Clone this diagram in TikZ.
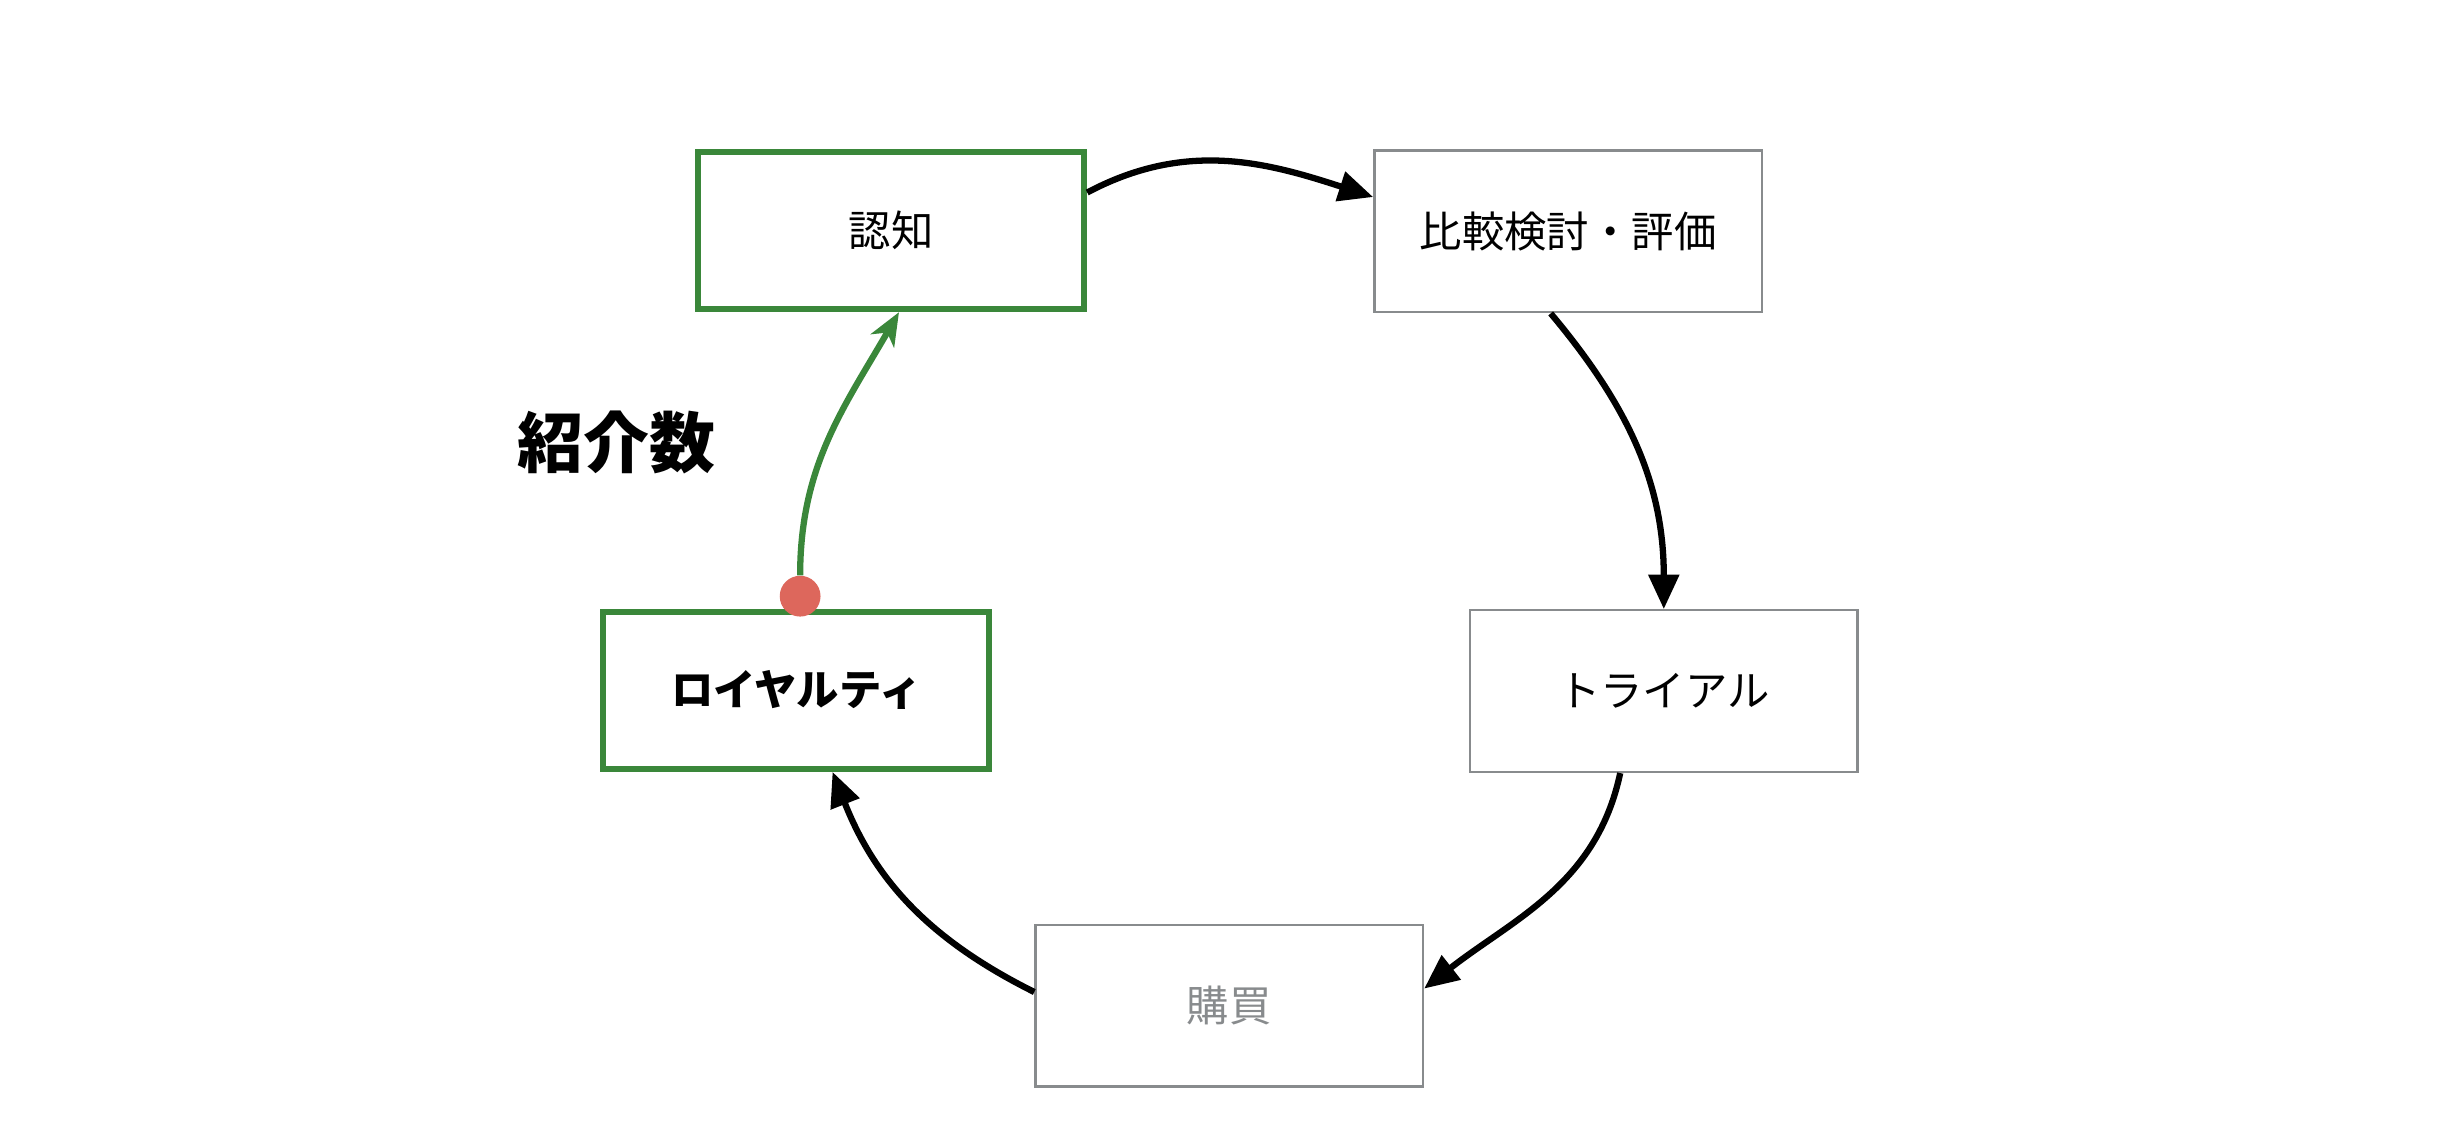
\documentclass[tikz,border=0pt]{standalone}
\usepackage{fontspec}
\usepackage{xcolor}
\usepackage{tikz}
\usetikzlibrary{arrows.meta, positioning}
\setmainfont{Noto Sans CJK JP}
\definecolor{stagegreen}{RGB}{58, 135, 58}
\definecolor{stagegray}{RGB}{136, 139, 141}
\definecolor{dotred}{RGB}{221, 103, 92}

\begin{document}
\begin{tikzpicture}[
    x=1pt, y=1pt,
    box/.style={rectangle, draw=stagegray, line width=1.5pt, fill=white, minimum width=247pt, minimum height=103pt, text centered, font=\fontsize{27pt}{32pt}\selectfont},
    keybox/.style={box, draw=stagegreen, line width=4pt, minimum width=246pt, minimum height=100pt},
    arrow/.style={-{Triangle[length=22pt,width=19pt]}, line width=4pt, black},
    greenarrow/.style={-{Stealth[length=21pt,width=17pt,inset=6pt]}, line width=4pt, stagegreen}
]
\useasboundingbox (0,0) rectangle (1568,-730.5);

\node[keybox] (ninchi) at (568,-147) {認知};
\node[box] (hikaku) at (999.5,-147.5) {比較検討・評価};
\node[box] (trial) at (1060.5,-440.5) {トライアル};
\node[box, text=stagegray] (kobai) at (783.5,-641) {購買};
\node[keybox, font=\fontsize{27pt}{32pt}\selectfont\bfseries] (loyalty) at (507.5,-440) {ロイヤルティ};

\node[font=\fontsize{42pt}{48pt}\selectfont\bfseries] (shokai) at (393,-282) {紹介数};

\draw[arrow] (ninchi.11) to[out=28, in=162] (hikaku.170);
\draw[arrow] (hikaku.258) to[out=-50, in=90] (trial.north);
\draw[arrow] (trial.242) to[out=-102, in=38] (kobai.5);
\draw[arrow] (kobai.176) to[bend left=21] (loyalty.294);

\node[circle, fill=dotred, minimum size=26pt, inner sep=0pt] (dot) at ([xshift=2.5pt, yshift=8pt]loyalty.north) {};
\draw[greenarrow] (dot.north) to[out=90, in=240] ([xshift=5pt]ninchi.south);

\end{tikzpicture}
\end{document}
